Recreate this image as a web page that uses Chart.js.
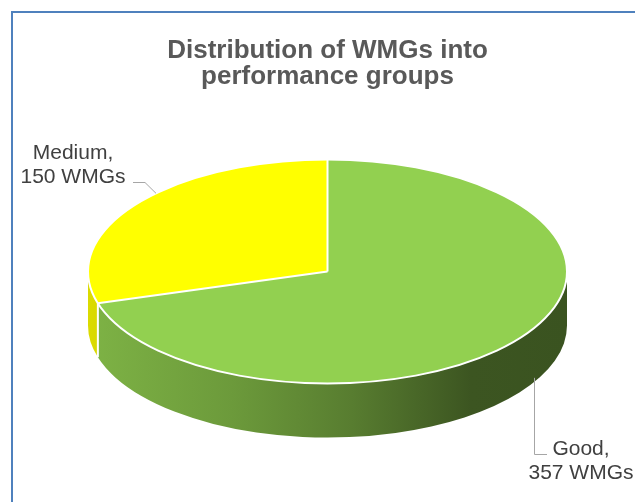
<!DOCTYPE html>
<html>
<head>
<meta charset="utf-8">
<script src="https://cdn.jsdelivr.net/npm/chart.js@4"></script>
<style>
html, body { margin: 0; padding: 0; background: #fff; }
canvas { display: block; }
</style>
</head>
<body>
<canvas id="c" width="635" height="502"></canvas>
<script>
// ---- data ----
const categories = ['Good', 'Medium'];
const wmgCounts = [357, 150];
const unitName = 'WMGs';
const titleLines = ['Distribution of WMGs into', 'performance groups'];

// ---- styles / geometry ----
const sliceColors = ['#92D050', '#FFFF00'];
const GEO = { cx: 327.5, cy: 271.5, rx: 239.5, ry: 112, depth: 54 };
const FONT = "'Liberation Sans', Arial, Helvetica, sans-serif";

function hexToRgb(h) {
  const n = parseInt(h.slice(1), 16);
  return [(n >> 16) & 255, (n >> 8) & 255, n & 255];
}
function shade(hex, f) {
  const [r, g, b] = hexToRgb(hex);
  return `rgb(${Math.round(r * f)},${Math.round(g * f)},${Math.round(b * f)})`;
}

const pie3d = {
  id: 'pie3d',
  beforeDraw(chart) {
    const ctx = chart.ctx;
    ctx.save();
    ctx.fillStyle = '#fff';
    ctx.fillRect(0, 0, chart.width, chart.height);
    ctx.strokeStyle = '#4F81BD';
    ctx.lineWidth = 2;
    ctx.strokeRect(12, 12, chart.width + 40, chart.height + 40);
    ctx.restore();
  },
  beforeDatasetsDraw(chart) {
    const ctx = chart.ctx;
    const meta = chart.getDatasetMeta(0);
    const { cx, cy, rx, ry, depth } = GEO;
    // extruded side walls (front half only)
    meta.data.forEach((arc, i) => {
      const col = sliceColors[i];
      for (const k of [-1, 0, 1]) {
        const a0 = Math.max(arc.startAngle + k * 2 * Math.PI, 0);
        const a1 = Math.min(arc.endAngle + k * 2 * Math.PI, Math.PI);
        if (a1 <= a0) continue;
        const g = ctx.createLinearGradient(cx - rx, 0, cx + rx, 0);
        g.addColorStop(0, shade(col, 0.86));
        g.addColorStop(0.3, shade(col, 0.74));
        g.addColorStop(0.55, shade(col, 0.6));
        g.addColorStop(0.8, shade(col, 0.41));
        g.addColorStop(1, shade(col, 0.4));
        ctx.beginPath();
        ctx.ellipse(cx, cy, rx, ry, 0, a0, a1, false);
        ctx.ellipse(cx, cy + depth, rx, ry, 0, a1, a0, true);
        ctx.closePath();
        ctx.fillStyle = g;
        ctx.fill();
      }
    });
    // flatten the top face
    const a = meta.data[0];
    ctx.save();
    ctx.translate(cx, cy);
    ctx.scale(1, ry / rx);
    ctx.translate(-a.x, -a.y);
  },
  afterDatasetsDraw(chart) {
    const ctx = chart.ctx;
    ctx.restore();
    const meta = chart.getDatasetMeta(0);
    const { cx, cy, rx, ry, depth } = GEO;
    // white edges
    ctx.save();
    ctx.strokeStyle = '#fff';
    ctx.lineWidth = 2;
    ctx.beginPath();
    ctx.ellipse(cx, cy, rx, ry, 0, 0, 2 * Math.PI);
    ctx.stroke();
    ctx.beginPath();
    meta.data.forEach(arc => {
      const t = arc.startAngle;
      ctx.moveTo(cx, cy);
      ctx.lineTo(cx + rx * Math.cos(t), cy + ry * Math.sin(t));
      let n = ((t % (2 * Math.PI)) + 2 * Math.PI) % (2 * Math.PI);
      if (n > 0.01 && n < Math.PI - 0.01) {
        const px = cx + rx * Math.cos(n), py = cy + ry * Math.sin(n);
        ctx.moveTo(px, py);
        ctx.lineTo(px, py + depth);
      }
    });
    ctx.stroke();
    ctx.restore();

    // data labels with leader lines
    ctx.save();
    ctx.strokeStyle = '#A6A6A6';
    ctx.lineWidth = 1;
    ctx.fillStyle = '#404040';
    ctx.font = `21px ${FONT}`;
    ctx.textAlign = 'center';
    ctx.textBaseline = 'alphabetic';
    const labels = chart.data.labels;
    const vals = chart.data.datasets[0].data;

    // Medium (back-left, top face)
    const mi = labels.indexOf('Medium');
    {
      const ax = 156;
      const ay = cy - ry * Math.sqrt(1 - Math.pow((ax - cx) / rx, 2));
      ctx.beginPath();
      ctx.moveTo(133, 182.5);
      ctx.lineTo(145, 182.5);
      ctx.lineTo(ax, ay);
      ctx.stroke();
      ctx.fillText(labels[mi] + ',', 73, 159);
      ctx.fillText(vals[mi] + ' ' + unitName, 73, 183);
    }
    // Good (front-right, side wall)
    const gi = labels.indexOf('Good');
    {
      const ax = 534.5;
      const ay = cy + depth + ry * Math.sqrt(1 - Math.pow((ax - cx) / rx, 2));
      ctx.beginPath();
      ctx.moveTo(ax, ay - 4);
      ctx.lineTo(ax, 454.5);
      ctx.lineTo(547, 454.5);
      ctx.stroke();
      ctx.fillText(labels[gi] + ',', 581, 455);
      ctx.fillText(vals[gi] + ' ' + unitName, 581, 479);
    }
    ctx.restore();
  }
};

new Chart(document.getElementById('c'), {
  type: 'pie',
  data: {
    labels: categories,
    datasets: [{
      data: wmgCounts,
      backgroundColor: sliceColors,
      borderWidth: 0,
      radius: GEO.rx,
      clip: false
    }]
  },
  options: {
    responsive: false,
    animation: false,
    devicePixelRatio: 1,
    events: [],
    layout: { padding: { top: 28, left: 20, right: 0, bottom: 0 } },
    plugins: {
      legend: { display: false },
      tooltip: { enabled: false },
      title: {
        display: true,
        fullSize: false,
        text: titleLines,
        color: '#595959',
        font: { family: FONT, size: 26, weight: 'bold', lineHeight: 1.0 },
        padding: { top: 10, bottom: 10 }
      }
    }
  },
  plugins: [pie3d]
});
</script>
</body>
</html>
